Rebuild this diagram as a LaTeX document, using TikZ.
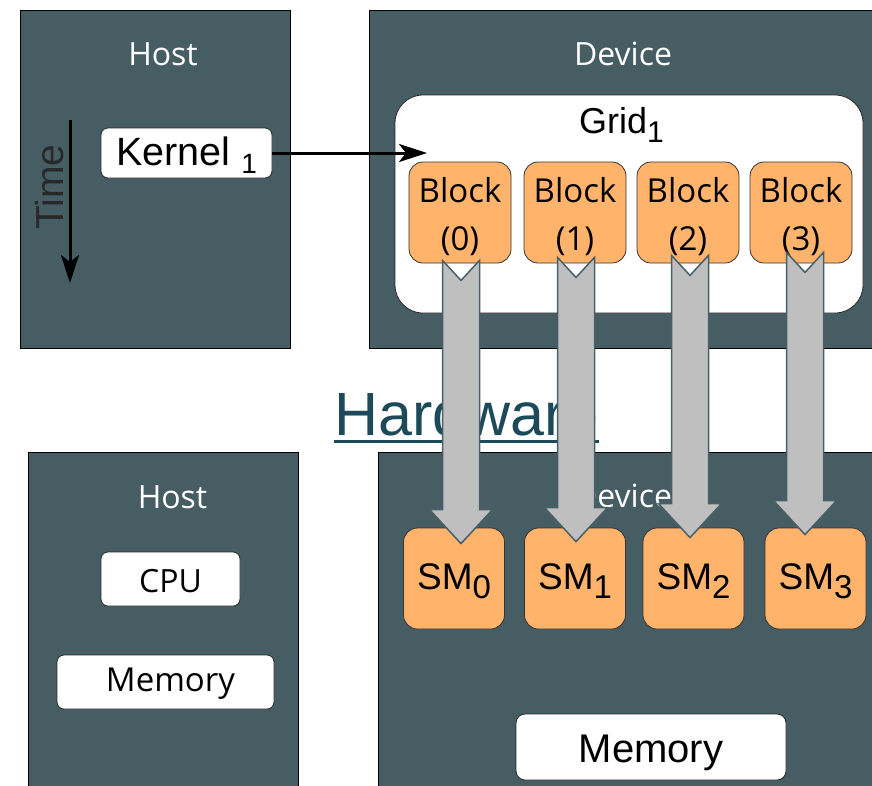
\documentclass[tikz,border=0pt]{standalone}
\usepackage{fontspec}
\setmainfont{Liberation Sans}
\newfontfamily\osf{Open Sans}
\usetikzlibrary{arrows.meta,calc}
\definecolor{slate}{RGB}{71,93,100}
\definecolor{blkorange}{RGB}{255,179,107}
\definecolor{arrgray}{RGB}{191,191,191}
\definecolor{arrline}{RGB}{72,96,104}
\definecolor{hwcol}{RGB}{28,74,88}
\definecolor{timecol}{RGB}{40,40,40}
\newcommand\fs[1]{\fontsize{#1}{#1}\selectfont}
\newcommand\dsub[3]{\raisebox{-#1pt}{\fontsize{#2}{#2}\selectfont #3}}
\newcommand\bigarrow[5]{%
 \path[bigarr] let \p1=(#1.south), \p2=(#2.north) in
 (\x1+#3pt-18.5pt, \y1+#4pt) -- (\x1+#3pt, \y1+#4pt-20pt) -- (\x1+#3pt+18.5pt, \y1+#4pt)
 -- (\x1+#3pt+18.5pt, \y2-#5pt+34pt) -- (\x1+#3pt+31.5pt, \y2-#5pt+34pt) -- (\x1+#3pt, \y2-#5pt)
 -- (\x1+#3pt-31.5pt, \y2-#5pt+34pt) -- (\x1+#3pt-18.5pt, \y2-#5pt+34pt) -- cycle;}
\begin{document}
\begin{tikzpicture}[x=1pt,y=-1pt,
  panel/.style={draw=black, line width=0.8pt, fill=slate, inner sep=0pt, rectangle},
  wlabel/.style={text=white, font=\osf\fs{32}, inner sep=0pt},
  wbox/.style={draw=black!85, fill=white, rounded corners=7pt, line width=0.8pt, inner sep=0pt},
  obox/.style={draw=black!80, fill=blkorange, rounded corners=14pt, line width=0.8pt, inner sep=0pt},
  thickarr/.style={line width=3pt, -{Stealth[length=28pt,width=18pt,inset=7pt]}},
  bigarr/.style={fill=arrgray, draw=arrline, line width=1.5pt, line join=miter}]
\useasboundingbox (0,0) rectangle (872,785);
\clip (0,0) rectangle (872,785);
% top host
\node[panel, minimum width=270pt, minimum height=338pt] (hostT) at (155,179) {};
\node[wlabel, anchor=base] (hostTl) at (163,65) {Host};
\node[wbox, minimum width=171pt, text height=37pt, text depth=13pt, font=\fs{39.5}] (kernel) at (186.5,153) {Kernel \dsub{8}{28}{1}\hspace{15pt}};
\node[rotate=90, anchor=base, font=\fs{39}, text=timecol, inner sep=0pt] (time) at (63,187) {Time};
\coordinate (t1) at (70,120);
\coordinate (t2) at (70,283);
\draw[thickarr] (t1) -- (t2);
% top device
\node[panel, minimum width=520pt, minimum height=338pt] (devT) at (629,179) {};
\node[wlabel, anchor=base] (devTl) at (623,65) {Device};
\node[wbox, rounded corners=28pt, minimum width=468pt, minimum height=218pt] (grid) at (629,204) {};
\node[anchor=base, font=\fs{36}, inner sep=0pt] (gridl) at (621.5,133) {Grid\dsub{9}{30}{1}};
\foreach \i/\x in {0/460,1/575,2/688,3/801}{
  \node[obox, minimum width=102pt, minimum height=101pt] (b\i) at (\x,212.5) {};
  \node[align=center, inner sep=0pt, font=\osf\fontsize{33}{48}\selectfont] (bl\i) at (\x,216.5) {Block\\(\i)};
}
\coordinate (kend) at (427,153);
\draw[thickarr] (kernel.east) -- (kend);
% Hardware
\node[anchor=base, font=\fs{61}, text=hwcol, inner sep=0pt] (hw) at (466.5,435) {Hardware};
\draw[hwcol, line width=3pt] ([yshift=-6pt]hw.base west) -- ([yshift=-6pt]hw.base east);
% bottom host
\node[panel, minimum width=270pt, minimum height=350pt] (hostB) at (163,627) {};
\node[wlabel, anchor=base] (hostBl) at (172.5,508) {Host};
\node[wbox, minimum width=139pt, text height=40pt, text depth=14pt, font=\osf\fs{32}] (cpu) at (170.5,579) {CPU};
\node[wbox, minimum width=217pt, text height=36pt, text depth=18pt, font=\osf\fs{33}] (hmem) at (165.5,682) {\hspace{10pt}Memory};
% bottom device
\node[panel, minimum width=510pt, minimum height=350pt] (devB) at (633,627) {};
\node[wlabel, anchor=base] (devBl) at (623,507) {Device};
\foreach \i/\x in {0/454,1/575,2/693.5,3/815.5}{
  \node[obox, minimum width=101pt, text height=61pt, text depth=40pt, font=\fs{37}] (sm\i) at (\x,578.5) {SM\dsub{9}{33}{\i}};
}
\node[wbox, rounded corners=9pt, minimum width=270pt, text height=48pt, text depth=18pt, font=\fs{40}] (dmem) at (651,747) {Memory};
% big arrows
\bigarrow{b0}{sm0}{1}{3}{16}
\bigarrow{b1}{sm1}{1}{6}{14}
\bigarrow{b2}{sm2}{2}{8}{10}
\bigarrow{b3}{sm3}{4}{11}{7}
\end{tikzpicture}
\end{document}
